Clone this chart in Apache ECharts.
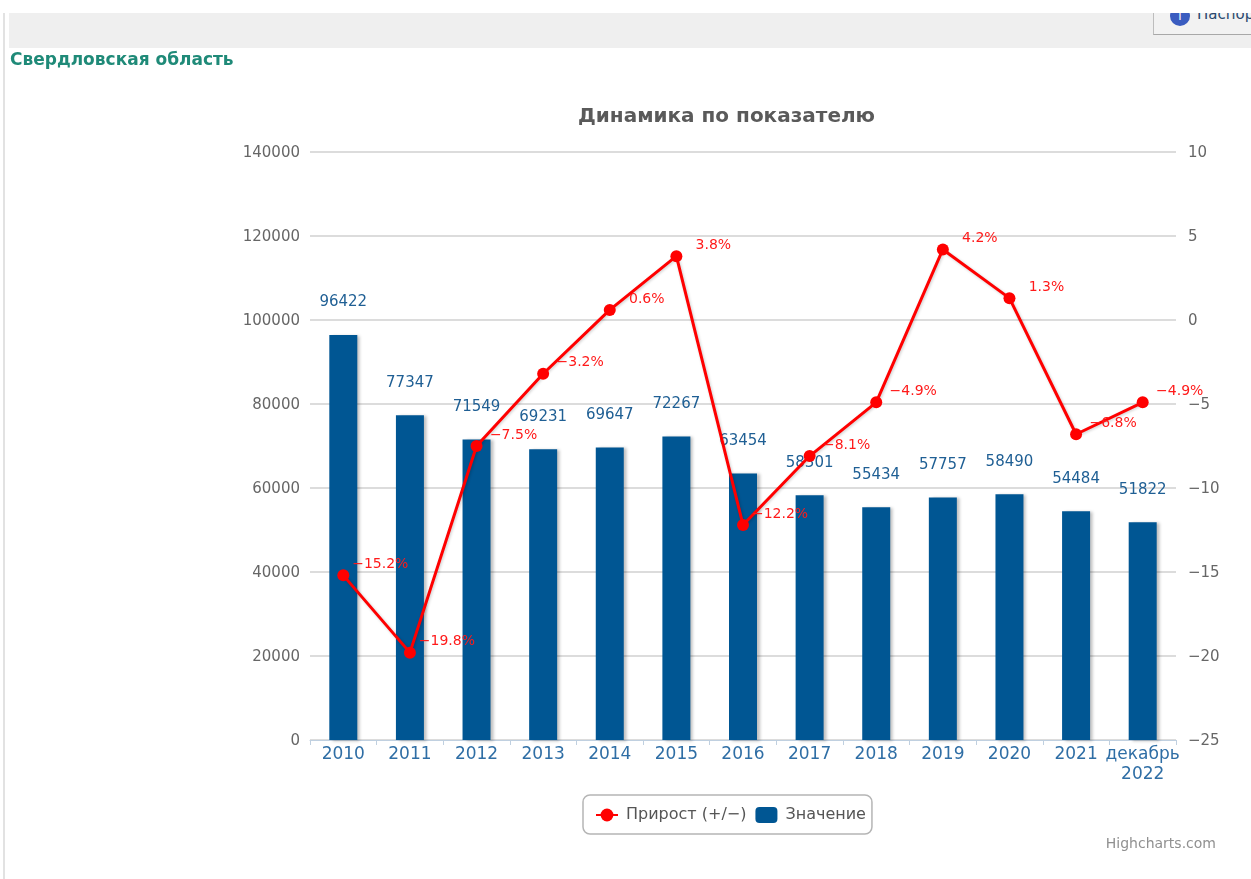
<!DOCTYPE html>
<html>
<head>
<meta charset="utf-8">
<script src="https://cdn.jsdelivr.net/npm/echarts@6/dist/echarts.min.js"></script>
<style>
  html, body { margin: 0; padding: 0; background: #fff; font-family: "DejaVu Sans", sans-serif; overflow: hidden; }
  #page { position: relative; width: 1251px; height: 879px; overflow: hidden; }
  #left-line { position: absolute; left: 3px; top: 13px; width: 2px; height: 866px; background: #e2e2e2; }
  #top-band { position: absolute; left: 9px; top: 13px; right: 0; height: 35px; background: #efefef; overflow: hidden; }
  #passport { position: absolute; left: 1144px; top: -14px; width: 110px; height: 34px; border: 1px solid #bdbdbd; border-bottom-color: #a8a8a8; background: #f2f2f2; font-size: 15px; color: #2a4a70; white-space: nowrap; }
  #passport i { position: absolute; left: 16px; top: 6px; width: 20px; height: 20px; border-radius: 50%; background: #3a5cc0; color: #fff; font-size: 12px; line-height: 20px; text-align: center; font-style: normal; }
  #passport span { position: absolute; left: 43px; top: 7px; line-height: 14px; }
  #region { position: absolute; left: 10px; top: 49px; font-size: 17px; font-weight: bold; color: #1f8a78; white-space: nowrap; }
  #chart { position: absolute; left: 0; top: 0; width: 1251px; height: 879px; }
</style>
</head>
<body>
<div id="page">
  <div id="chart"></div>
  <div id="left-line"></div>
  <div id="top-band"><div id="passport"><i>i</i><span>Паспорт</span></div></div>
  <div id="region">Свердловская область</div>
</div>
<script>
const categories = ['2010', '2011', '2012', '2013', '2014', '2015', '2016', '2017', '2018', '2019', '2020', '2021', 'декабрь\n2022'];
const values = [96422, 77347, 71549, 69231, 69647, 72267, 63454, 58301, 55434, 57757, 58490, 54484, 51822];
const growth = [-15.2, -19.8, -7.5, -3.2, 0.6, 3.8, -12.2, -8.1, -4.9, 4.2, 1.3, -6.8, -4.9];

const chart = echarts.init(document.getElementById('chart'));
const font = '"DejaVu Sans", sans-serif';

chart.setOption({
  animation: false,
  textStyle: { fontFamily: font },
  title: {
    text: 'Динамика по показателю',
    left: 573,
    top: 102,
    textStyle: { color: '#5a5a5a', fontSize: 20, fontWeight: 'bold', fontFamily: font },
  },
  grid: { left: 310, right: 75, top: 152, bottom: 139 },
  legend: {
    left: 583,
    top: 795,
    data: ['Прирост (+/−)', 'Значение'],
    backgroundColor: '#fff',
    borderColor: '#b5b5b5',
    borderWidth: 1.5,
    borderRadius: 7,
    padding: [12, 6, 11, 12],
    itemGap: 9,
    itemWidth: 22,
    itemHeight: 16,
    textStyle: { color: '#555', fontSize: 16, padding: [0, 0, 0, 3], fontFamily: font },
  },
  graphic: [{
    type: 'text',
    right: 35,
    top: 837,
    style: { text: 'Highcharts.com', fill: '#909090', font: '14px ' + font },
  }],
  xAxis: {
    type: 'category',
    data: categories,
    axisLine: { lineStyle: { color: '#c0d0e0' } },
    axisTick: { show: true, length: 5, alignWithLabel: false, lineStyle: { color: '#c0d0e0' } },
    axisLabel: { color: '#2f6ea5', fontSize: 17, lineHeight: 20, margin: 5, interval: 0, fontFamily: font },
  },
  yAxis: [
    {
      type: 'value',
      min: 0,
      max: 140000,
      interval: 20000,
      axisLine: { show: false },
      axisTick: { show: false },
      axisLabel: {
        color: '#666',
        fontSize: 15,
        margin: 10,
        verticalAlign: 'top',
        lineHeight: 3,
        fontFamily: font,
        formatter: (v) => String(v),
      },
      splitLine: { lineStyle: { color: '#dcdcdc', width: 2 } },
    },
    {
      type: 'value',
      min: -25,
      max: 10,
      interval: 5,
      axisLine: { show: false },
      axisTick: { show: false },
      axisLabel: {
        color: '#666',
        fontSize: 15,
        margin: 12,
        verticalAlign: 'top',
        lineHeight: 3,
        fontFamily: font,
        formatter: (v) => String(v).replace('-', '−'),
      },
      splitLine: { show: false },
    },
  ],
  series: [
    {
      name: 'Значение',
      type: 'bar',
      yAxisIndex: 0,
      data: values,
      barWidth: 28,
      z: 2,
      itemStyle: {
        color: '#005693',
        shadowColor: 'rgba(0, 0, 0, 0.25)',
        shadowBlur: 3,
        shadowOffsetX: 3,
        shadowOffsetY: 1,
      },
      label: {
        show: true,
        position: 'top',
        distance: 25,
        color: '#1f5f94',
        fontSize: 15,
        fontFamily: font,
      },
    },
    {
      name: 'Прирост (+/−)',
      type: 'line',
      yAxisIndex: 1,
      data: growth,
      z: 3,
      symbol: 'circle',
      symbolSize: 12,
      lineStyle: { color: '#ff0000', width: 3, shadowColor: 'rgba(0, 0, 0, 0.2)', shadowBlur: 3, shadowOffsetX: 1, shadowOffsetY: 1 },
      itemStyle: { color: '#ff0000' },
      label: {
        show: true,
        position: 'inside',
        offset: [37, -11],
        color: '#ff1a1a',
        fontSize: 14,
        fontFamily: font,
        formatter: (p) => String(p.value).replace('-', '−') + '%',
      },
    },
  ],
});
</script>
</body>
</html>
